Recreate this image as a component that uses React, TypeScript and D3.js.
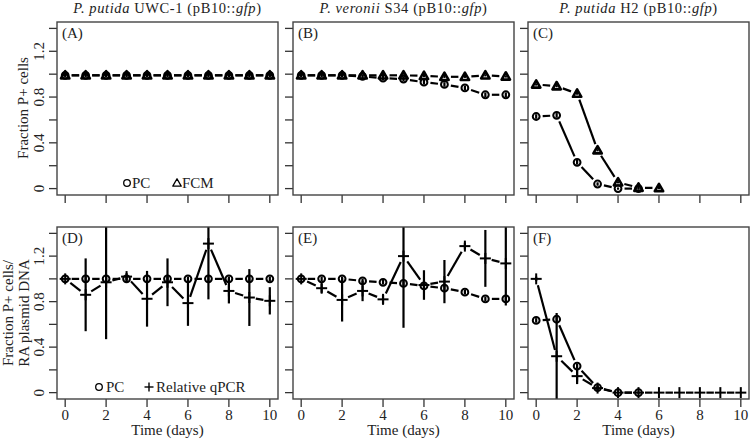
import React from "react";
import * as d3 from "d3";

// ---------- data ----------
const DAYS = [0, 1, 2, 3, 4, 5, 6, 7, 8, 9, 10];
const DAYS_0_5 = [0, 1, 2, 3, 4, 5];
const DAYS_0_6 = [0, 1, 2, 3, 4, 5, 6];
const X_TICKS = [0, 2, 4, 6, 8, 10];
const Y_TICKS = [0, 0.2, 0.4, 0.6, 0.8, 1.0, 1.2, 1.4];
const Y_TICK_LABELS = ["0", "0.4", "0.8", "1.2"];

const A_PC = [0.99, 0.99, 0.99, 0.99, 0.99, 0.99, 0.99, 0.99, 0.99, 0.99, 0.99];
const A_PC_ERR = [0.015, 0.015, 0.015, 0.015, 0.015, 0.015, 0.015, 0.015, 0.015, 0.015, 0.015];
const A_FCM = [0.99, 0.99, 0.99, 0.99, 0.99, 0.99, 0.99, 0.99, 0.99, 0.99, 0.99];
const A_FCM_ERR = [0.01, 0.01, 0.01, 0.01, 0.01, 0.01, 0.01, 0.01, 0.01, 0.01, 0.01];

const B_PC = [0.99, 0.99, 0.99, 0.98, 0.965, 0.957, 0.93, 0.91, 0.88, 0.82, 0.82];
const B_PC_ERR = [0.015, 0.015, 0.015, 0.015, 0.02, 0.02, 0.02, 0.02, 0.02, 0.02, 0.02];
const B_FCM = [0.99, 0.99, 0.99, 0.99, 0.99, 0.99, 0.985, 0.977, 0.977, 0.99, 0.98];
const B_FCM_ERR = [0.01, 0.01, 0.01, 0.01, 0.01, 0.01, 0.01, 0.01, 0.01, 0.01, 0.01];

const C_PC = [0.63, 0.64, 0.23, 0.04, 0.0, 0.0];
const C_PC_ERR = [0.02, 0.02, 0.02, 0.015, 0.01, 0.01];
const C_FCM = [0.91, 0.895, 0.83, 0.335, 0.055, 0.008, 0.005];
const C_FCM_ERR = [0.01, 0.01, 0.01, 0.01, 0.01, 0.01, 0.01];

const D_PC = [1.0, 1.0, 1.0, 1.0, 1.0, 1.0, 1.0, 1.0, 1.0, 1.0, 1.0];
const D_PC_ERR = [0.0, 0.02, 0.02, 0.02, 0.02, 0.02, 0.02, 0.02, 0.02, 0.02, 0.02];
const D_QPCR = [1.0, 0.86, 0.97, 1.02, 0.825, 0.97, 0.787, 1.31, 0.894, 0.836, 0.807];
const D_QPCR_ERR = [0.0, 0.32, 0.5, 0.03, 0.245, 0.21, 0.2, 0.49, 0.11, 0.25, 0.12];

const E_PC = [1.0, 1.0, 1.0, 0.982, 0.97, 0.96, 0.938, 0.918, 0.883, 0.824, 0.824];
const E_PC_ERR = [0.0, 0.02, 0.02, 0.02, 0.02, 0.02, 0.02, 0.02, 0.02, 0.02, 0.02];
const E_QPCR = [1.0, 0.918, 0.815, 0.894, 0.82, 1.2, 0.946, 0.976, 1.288, 1.18, 1.136];
const E_QPCR_ERR = [0.0, 0.04, 0.19, 0.09, 0.04, 0.63, 0.13, 0.19, 0.03, 0.25, 0.37];

const F_PC = [0.635, 0.645, 0.233, 0.044, 0.0, 0.0];
const F_PC_ERR = [0.02, 0.02, 0.02, 0.02, 0.01, 0.01];
const F_QPCR = [1.0, 0.32, 0.145, 0.04, 0.0, 0.0, 0.0, 0.0, 0.0, 0.0, 0.0];
const F_QPCR_ERR = [0.02, 0.38, 0.07, 0.02, 0.0, 0.0, 0.0, 0.0, 0.0, 0.0, 0.0];

// ---------- layout ----------
const FONT = "'Liberation Serif', 'DejaVu Serif', serif";
const FS = 15;
const PANEL_X = [57, 293, 528];
const PANEL_W = 221;
const ROWS = [
  { top: 22, bottom: 195 },
  { top: 227, bottom: 399 },
];
const GAP = 6.5;

type Kind = "circle" | "triangle" | "plus";
interface Series {
  kind: Kind;
  days: number[];
  values: number[];
  errs: number[];
}

const panels: { label: string; row: number; col: number; series: Series[] }[] = [
  {
    label: "(A)", row: 0, col: 0,
    series: [
      { kind: "circle", days: DAYS, values: A_PC, errs: A_PC_ERR },
      { kind: "triangle", days: DAYS, values: A_FCM, errs: A_FCM_ERR },
    ],
  },
  {
    label: "(B)", row: 0, col: 1,
    series: [
      { kind: "circle", days: DAYS, values: B_PC, errs: B_PC_ERR },
      { kind: "triangle", days: DAYS, values: B_FCM, errs: B_FCM_ERR },
    ],
  },
  {
    label: "(C)", row: 0, col: 2,
    series: [
      { kind: "circle", days: DAYS_0_5, values: C_PC, errs: C_PC_ERR },
      { kind: "triangle", days: DAYS_0_6, values: C_FCM, errs: C_FCM_ERR },
    ],
  },
  {
    label: "(D)", row: 1, col: 0,
    series: [
      { kind: "circle", days: DAYS, values: D_PC, errs: D_PC_ERR },
      { kind: "plus", days: DAYS, values: D_QPCR, errs: D_QPCR_ERR },
    ],
  },
  {
    label: "(E)", row: 1, col: 1,
    series: [
      { kind: "circle", days: DAYS, values: E_PC, errs: E_PC_ERR },
      { kind: "plus", days: DAYS, values: E_QPCR, errs: E_QPCR_ERR },
    ],
  },
  {
    label: "(F)", row: 1, col: 2,
    series: [
      { kind: "circle", days: DAYS_0_5, values: F_PC, errs: F_PC_ERR },
      { kind: "plus", days: DAYS, values: F_QPCR, errs: F_QPCR_ERR },
    ],
  },
];

function Marker({ kind, x, y, small }: { kind: Kind; x: number; y: number; small?: boolean }) {
  const sw = small ? 1.3 : 2;
  if (kind === "circle") {
    return <circle cx={x} cy={y} r={small ? 3.3 : 3.4} fill="none" stroke="#000" strokeWidth={sw} />;
  }
  if (kind === "triangle") {
    const s = 4.2;
    const pts = [
      [x, y - s],
      [x - s, y + s * 0.75],
      [x + s, y + s * 0.75],
    ];
    return (
      <polygon
        points={pts.map((p) => p.join(",")).join(" ")}
        fill="none"
        stroke="#000"
        strokeWidth={small ? 1.3 : 2.6}
        strokeLinejoin="round"
      />
    );
  }
  const h = small ? 4.5 : 5.5;
  return (
    <g stroke="#000" strokeWidth={small ? 1.4 : 2}>
      <line x1={x - h} x2={x + h} y1={y} y2={y} />
      <line x1={x} x2={x} y1={y - h} y2={y + h} />
    </g>
  );
}

function Panel({ p, idx }: { p: (typeof panels)[number]; idx: number }) {
  const left = PANEL_X[p.col];
  const right = left + PANEL_W;
  const { top, bottom } = ROWS[p.row];
  const x = d3.scaleLinear().domain([-0.4, 10.4]).range([left, right]);
  const y = d3.scaleLinear().domain([-0.056, 1.456]).range([bottom, top]);
  const clipId = `clip${idx}`;

  const segs: JSX.Element[] = [];
  p.series.forEach((s, si) => {
    for (let i = 0; i < s.days.length - 1; i++) {
      const x1 = x(s.days[i]), y1 = y(s.values[i]);
      const x2 = x(s.days[i + 1]), y2 = y(s.values[i + 1]);
      const dx = x2 - x1, dy = y2 - y1;
      const L = Math.hypot(dx, dy);
      if (L <= 2 * GAP) continue;
      const ux = dx / L, uy = dy / L;
      segs.push(
        <line
          key={`s${si}-${i}`}
          x1={x1 + ux * GAP}
          y1={y1 + uy * GAP}
          x2={x2 - ux * GAP}
          y2={y2 - uy * GAP}
          stroke="#000"
          strokeWidth={2.2}
        />
      );
    }
  });

  return (
    <g>
      <defs>
        <clipPath id={clipId}>
          <rect x={left} y={top} width={right - left} height={bottom - top} />
        </clipPath>
      </defs>
      {Y_TICKS.map((t) => (
        <line key={`yt${t}`} x1={left - 8} x2={left} y1={y(t)} y2={y(t)} stroke="#333" strokeWidth={1.3} />
      ))}
      {p.col === 0 &&
        Y_TICKS.filter((t) => Y_TICK_LABELS.includes(d3.format("~g")(t))).map((t) => (
          <text
            key={`yl${t}`}
            transform={`translate(${left - 13},${y(t)}) rotate(-90)`}
            textAnchor="middle"
            fontFamily={FONT}
            fontSize={FS}
            fill="#222"
          >
            {d3.format("~g")(t)}
          </text>
        ))}
      {X_TICKS.map((t) => (
        <line key={`xt${t}`} x1={x(t)} x2={x(t)} y1={bottom} y2={bottom + 8} stroke="#333" strokeWidth={1.3} />
      ))}
      {p.row === 1 &&
        X_TICKS.map((t) => (
          <text key={`xl${t}`} x={x(t)} y={bottom + 21} textAnchor="middle" fontFamily={FONT} fontSize={FS} fill="#222">
            {t}
          </text>
        ))}
      {p.row === 1 && (
        <text x={(left + right) / 2} y={bottom + 36} textAnchor="middle" fontFamily={FONT} fontSize={FS} fill="#222">
          Time (days)
        </text>
      )}
      <g clipPath={`url(#${clipId})`}>
        {segs}
        {p.series.map((s, si) =>
          s.days.map((d, i) =>
            s.errs[i] > 0 ? (
              <line
                key={`e${si}-${i}`}
                x1={x(d)}
                x2={x(d)}
                y1={y(s.values[i] - s.errs[i])}
                y2={y(s.values[i] + s.errs[i])}
                stroke="#000"
                strokeWidth={2.2}
              />
            ) : null
          )
        )}
        {p.series.map((s, si) =>
          s.days.map((d, i) => <Marker key={`m${si}-${i}`} kind={s.kind} x={x(d)} y={y(s.values[i])} />)
        )}
      </g>
      <rect x={left} y={top} width={right - left} height={bottom - top} fill="none" stroke="#444" strokeWidth={1.4} />
      <text x={left + 5} y={top + 16} fontFamily={FONT} fontSize={FS} fill="#222">
        {p.label}
      </text>
    </g>
  );
}

const TITLES = [
  { it: "P. putida", rest: " UWC-1 (pB10::", gfp: "gfp", end: ")" },
  { it: "P. veronii", rest: " S34 (pB10::", gfp: "gfp", end: ")" },
  { it: "P. putida", rest: " H2 (pB10::", gfp: "gfp", end: ")" },
];

export default function App() {
  return (
    <svg width={750} height={439} style={{ position: "absolute", left: 0, top: 0, background: "#fff" }}>
      <rect x={0} y={0} width={750} height={439} fill="#fff" />
      {TITLES.map((t, i) => (
        <text
          key={i}
          x={PANEL_X[i] + PANEL_W / 2}
          y={13}
          textAnchor="middle"
          fontFamily={FONT}
          fontSize={14.5}
          letterSpacing={0.6}
          fill="#222"
        >
          <tspan fontStyle="italic">{t.it}</tspan>
          <tspan>{t.rest}</tspan>
          <tspan fontStyle="italic">{t.gfp}</tspan>
          <tspan>{t.end}</tspan>
        </text>
      ))}
      {panels.map((p, i) => (
        <Panel key={i} p={p} idx={i} />
      ))}
      <text transform="translate(28,108) rotate(-90)" textAnchor="middle" fontFamily={FONT} fontSize={FS} fill="#222">
        Fraction P+ cells
      </text>
      <text transform="translate(13,313) rotate(-90)" textAnchor="middle" fontFamily={FONT} fontSize={FS} fill="#222">
        Fraction P+ cells/
      </text>
      <text transform="translate(29,313) rotate(-90)" textAnchor="middle" fontFamily={FONT} fontSize={FS} fill="#222">
        RA plasmid DNA
      </text>
      <Marker kind="circle" x={127} y={183} small />
      <text x={132} y={188} fontFamily={FONT} fontSize={FS} fill="#222">PC</text>
      <Marker kind="triangle" x={177} y={183} small />
      <text x={182} y={188} fontFamily={FONT} fontSize={FS} fill="#222">FCM</text>
      <Marker kind="circle" x={99} y={387} small />
      <text x={106} y={392} fontFamily={FONT} fontSize={FS} fill="#222">PC</text>
      <Marker kind="plus" x={149} y={387} small />
      <text x={156} y={392} fontFamily={FONT} fontSize={FS} fill="#222">Relative qPCR</text>
    </svg>
  );
}
